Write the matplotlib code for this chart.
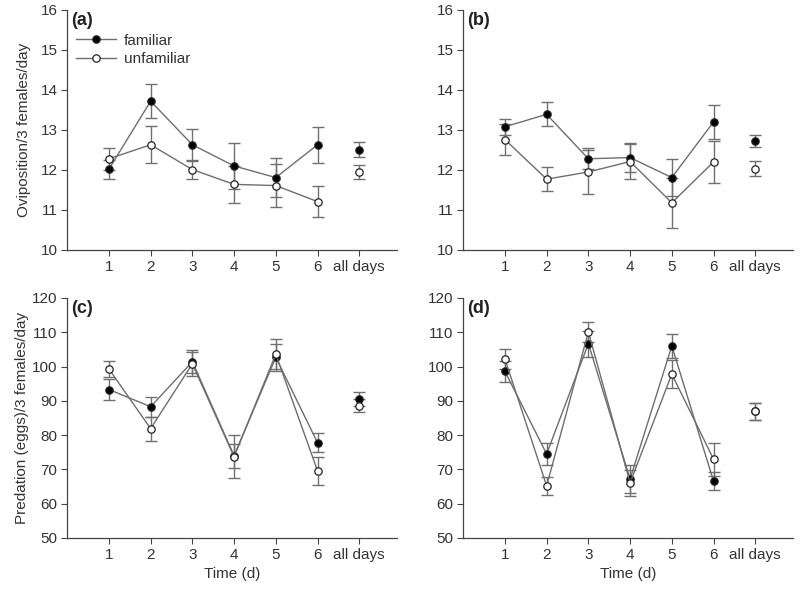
import matplotlib
matplotlib.use("Agg")
import matplotlib.pyplot as plt
import numpy as np

plt.rcParams['font.family'] = ['Liberation Sans', 'DejaVu Sans']

tick_labels = ['1', '2', '3', '4', '5', '6', 'all days']

# Panel (a): oviposition, group 1
a_fam = [12.02, 13.72, 12.63, 12.10, 11.81, 12.63, 12.51]
a_fam_se = [0.24, 0.42, 0.40, 0.58, 0.48, 0.45, 0.18]
a_unf = [12.28, 12.63, 12.01, 11.64, 11.61, 11.21, 11.95]
a_unf_se = [0.27, 0.46, 0.23, 0.47, 0.53, 0.38, 0.17]

# Panel (b): oviposition, group 2
b_fam = [13.08, 13.39, 12.28, 12.31, 11.81, 13.20, 12.73]
b_fam_se = [0.20, 0.30, 0.26, 0.36, 0.46, 0.42, 0.15]
b_unf = [12.76, 11.77, 11.95, 12.21, 11.18, 12.20, 12.03]
b_unf_se = [0.39, 0.30, 0.54, 0.44, 0.63, 0.52, 0.19]

# Panel (c): predation, group 1
c_fam = [93.3, 88.3, 101.4, 74.0, 102.7, 77.8, 90.5]
c_fam_se = [3.0, 2.9, 3.3, 3.5, 4.0, 2.7, 2.0]
c_unf = [99.3, 81.9, 100.8, 73.7, 103.6, 69.6, 88.6]
c_unf_se = [2.4, 3.5, 3.5, 6.3, 4.4, 4.0, 2.0]

# Panel (d): predation, group 2
d_fam = [98.6, 74.5, 106.7, 67.2, 106.0, 66.6, 86.9]
d_fam_se = [3.0, 3.3, 3.8, 4.0, 3.4, 2.6, 2.5]
d_unf = [102.2, 65.2, 110.1, 66.1, 97.8, 73.0, 86.9]
d_unf_se = [3.0, 2.6, 2.8, 3.8, 4.0, 4.8, 2.5]

panels = [
    ('(a)', a_fam, a_fam_se, a_unf, a_unf_se),
    ('(b)', b_fam, b_fam_se, b_unf, b_unf_se),
    ('(c)', c_fam, c_fam_se, c_unf, c_unf_se),
    ('(d)', d_fam, d_fam_se, d_unf, d_unf_se),
]

fig = plt.figure(figsize=(8.0, 5.89), dpi=100)
W, H = 0.412, 0.4075
positions = [(0.084, 0.5756), (0.579, 0.5756), (0.084, 0.0866), (0.579, 0.0866)]

line_c = '#6e6e6e'
err_c = '#707070'
txt_c = '#333333'
x = np.arange(1, len(tick_labels) + 1)

for i, (lab, fam, fam_se, unf, unf_se) in enumerate(panels):
    ax = fig.add_axes([positions[i][0], positions[i][1], W, H])
    for vals, se, face, name, z in [(fam, fam_se, 'black', 'familiar', 3),
                                    (unf, unf_se, 'white', 'unfamiliar', 4)]:
        ax.errorbar(x, vals, yerr=se, fmt='none', ecolor=err_c, elinewidth=1.0,
                    capsize=4, capthick=1.0, zorder=z - 1)
        ax.plot(x[:6], vals[:6], '-', color=line_c, lw=1.0, zorder=z)
        ax.plot(x, vals, 'o', ls='none', mfc=face, mec='#222222', mew=0.9,
                ms=5.3, zorder=z + 0.5)
        if i == 0:
            ax.plot([], [], '-o', color=line_c, lw=1.0, mfc=face, mec='#222222',
                    mew=0.9, ms=5.3, label=name)
    ax.set_xlim(0, 7.9)
    if i < 2:
        ax.set_ylim(10, 16)
        ax.set_yticks(np.arange(10, 17, 1))
    else:
        ax.set_ylim(50, 120)
        ax.set_yticks(np.arange(50, 121, 10))
        ax.set_xlabel('Time (d)', fontsize=11, color=txt_c, labelpad=4)
    ax.set_xticks(x)
    ax.set_xticklabels(tick_labels)
    for s in ['top', 'right']:
        ax.spines[s].set_visible(False)
    for s in ['left', 'bottom']:
        ax.spines[s].set_color('#444444')
        ax.spines[s].set_linewidth(0.9)
    ax.tick_params(direction='out', length=4, width=0.8, color='#444444',
                   labelsize=11, labelcolor=txt_c, pad=3)
    ax.text(0.012, 0.99, lab, transform=ax.transAxes, fontsize=13,
            fontweight='bold', color='#222222', va='top', ha='left')
    if i == 0:
        ax.set_ylabel('Oviposition/3 females/day', fontsize=11, color=txt_c, labelpad=7)
        ax.legend(loc='upper left', bbox_to_anchor=(0.0, 0.94), frameon=False,
                  fontsize=11, handlelength=2.6, handletextpad=0.5,
                  labelspacing=0.3, borderaxespad=0.2, labelcolor=txt_c)
    if i == 2:
        ax.set_ylabel('Predation (eggs)/3 females/day', fontsize=11, color=txt_c, labelpad=2)

fig.savefig('out.png', dpi=100)
